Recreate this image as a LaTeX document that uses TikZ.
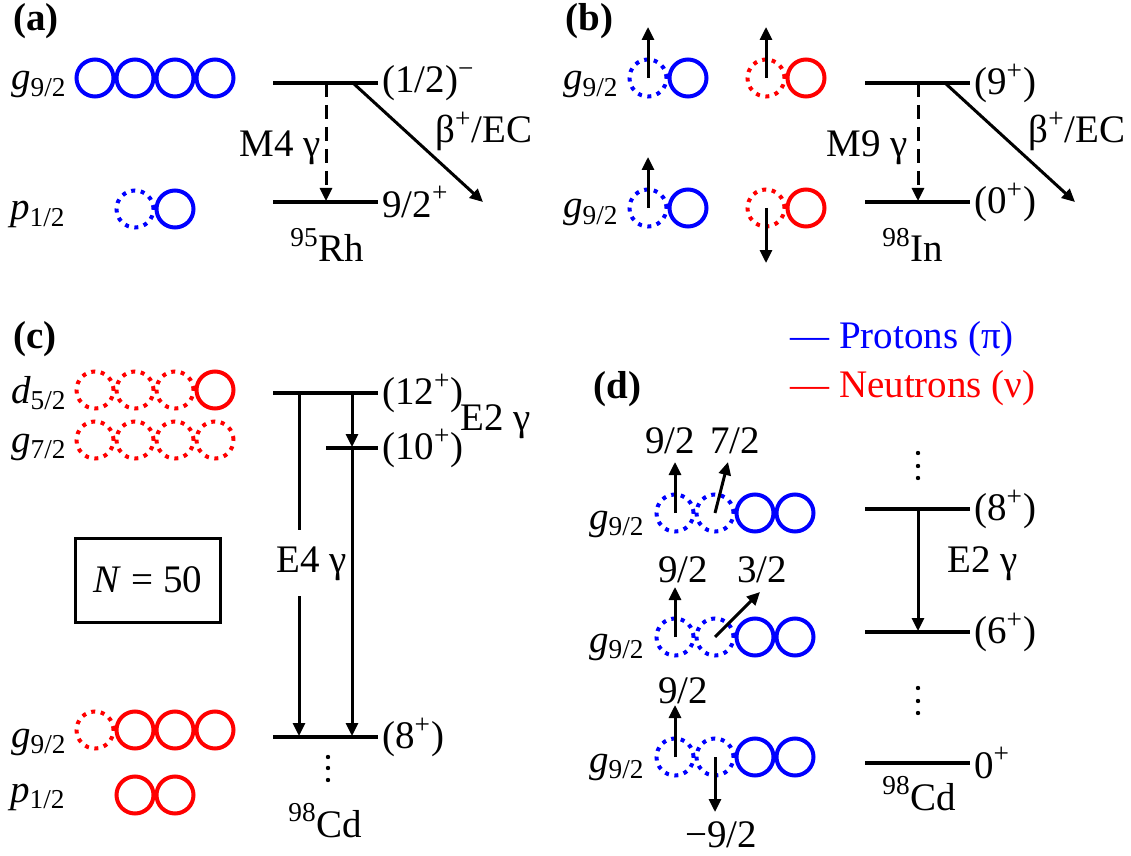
\documentclass[tikz,border=0pt]{standalone}
\usepackage{fontspec}
\setmainfont{Liberation Serif}
\usetikzlibrary{arrows.meta}

\begin{document}
\begin{tikzpicture}[x=0.5pt,y=-0.5pt,
  font=\fontsize{19.5}{23}\selectfont,
  every node/.style={inner sep=0pt},
  orb/.style={circle,draw,line width=2pt,minimum size=18.5pt},
  hole/.style={orb,dash pattern=on 2pt off 2.8pt},
  lvl/.style={line width=2.2pt},
  gam/.style={-{Triangle[length=6.5pt,width=6pt]},line width=1.5pt},
  mgam/.style={gam,dash pattern=on 7pt off 4pt},
  spin/.style={-{Triangle[length=6.5pt,width=6pt]},line width=1.5pt},
  tag/.style={anchor=base west,font=\fontsize{19.5}{23}\selectfont\bfseries},
  orbl/.style={anchor=base east},
  jlab/.style={anchor=west,xshift=1pt},
  txt/.style={anchor=base west}
]
\useasboundingbox (0,0) rectangle (1131,856);

% (a) 95Rh
\node[tag] (tagA) at (13,31) {(a)};
\node[orbl] (aGl) at (67,90) {\textit{g}\textsubscript{9/2}};
\node[orb,blue] (aG1) at (95,78) {}; \node[orb,blue] (aG2) at (135,78) {};
\node[orb,blue] (aG3) at (175,78) {}; \node[orb,blue] (aG4) at (215,78) {};
\node[orbl] (aPl) at (66,220) {\textit{p}\textsubscript{1/2}};
\node[hole,blue] (aP1) at (135,209) {}; \node[orb,blue] (aP2) at (175,209) {};

\draw[lvl] (273,83) -- (378,83) node[jlab] (aJhi) {(1/2)\textsuperscript{−}};
\draw[lvl] (273,202) -- (378,202) node[jlab] (aJlo) {9/2\textsuperscript{+}};
\coordinate (aMs) at (326,83); \coordinate (aMe) at (326,201);
\draw[mgam] (aMs) -- (aMe);
\node[anchor=base east] (aM4) at (321,157) {M4 γ};
\coordinate (aBs) at (353,83); \coordinate (aBe) at (483,202);
\draw[gam] (aBs) -- (aBe);
\node[txt] (aBeta) at (435,143) {β\textsuperscript{+}/EC};
\node[txt] (aNuc) at (290,262) {\textsuperscript{95}Rh};

% (b) 98In
\node[tag] (tagB) at (565,31) {(b)};
\node[orbl] (bGl1) at (619,90) {\textit{g}\textsubscript{9/2}};
\node[hole,blue] (bP1) at (648,78) {}; \node[orb,blue] (bP2) at (688,78) {};
\node[hole,red] (bN1) at (766,78) {}; \node[orb,red] (bN2) at (806,78) {};
\node[orbl] (bGl2) at (619,218) {\textit{g}\textsubscript{9/2}};
\node[hole,blue] (bP3) at (648,208) {}; \node[orb,blue] (bP4) at (688,208) {};
\node[hole,red] (bN3) at (766,208) {}; \node[orb,red] (bN4) at (806,208) {};
\coordinate (bS1) at (648,27); \coordinate (bS2) at (766,27);
\coordinate (bS3) at (648,157); \coordinate (bS4) at (766,263);
\draw[spin] (bP1.center) -- (bS1);
\draw[spin] (bN1.center) -- (bS2);
\draw[spin] (bP3.center) -- (bS3);
\draw[spin] (bN3.center) -- (bS4);

\draw[lvl] (865,83) -- (970,83) node[jlab] (bJhi) {(9\textsuperscript{+})};
\draw[lvl] (865,202) -- (970,202) node[jlab] (bJlo) {(0\textsuperscript{+})};
\coordinate (bMs) at (918,83); \coordinate (bMe) at (918,201);
\draw[mgam] (bMs) -- (bMe);
\node[anchor=base east] (bM9) at (908,157) {M9 γ};
\coordinate (bBs) at (945,83); \coordinate (bBe) at (1075,202);
\draw[gam] (bBs) -- (bBe);
\node[txt] (bBeta) at (1028,143) {β\textsuperscript{+}/EC};
\node[txt] (bNuc) at (882,262) {\textsuperscript{98}In};

% (c) 98Cd, neutron picture
\node[tag] (tagC) at (13,348) {(c)};
\node[orbl] (cDl) at (67,403) {\textit{d}\textsubscript{5/2}};
\node[hole,red] (cD1) at (95,390) {}; \node[hole,red] (cD2) at (135,390) {};
\node[hole,red] (cD3) at (175,390) {}; \node[orb,red] (cD4) at (215,390) {};
\node[orbl] (cGl) at (67,452) {\textit{g}\textsubscript{7/2}};
\node[hole,red] (cG1) at (95,440) {}; \node[hole,red] (cG2) at (135,440) {};
\node[hole,red] (cG3) at (175,440) {}; \node[hole,red] (cG4) at (215,440) {};
\node[draw,line width=1.5pt,minimum width=72.5pt,minimum height=42pt] (nbox) at (148,580) {\textit{N} = 50};
\node[orbl] (cG9l) at (67,747) {\textit{g}\textsubscript{9/2}};
\node[hole,red] (cH1) at (95,730) {}; \node[orb,red] (cH2) at (135,730) {};
\node[orb,red] (cH3) at (175,730) {}; \node[orb,red] (cH4) at (215,730) {};
\node[orbl] (cPl) at (66,802) {\textit{p}\textsubscript{1/2}};
\node[orb,red] (cP1) at (135,795) {}; \node[orb,red] (cP2) at (175,795) {};

\draw[lvl] (273,393) -- (378,393) node[jlab] (cJ12) {(12\textsuperscript{+})};
\draw[lvl] (326,448) -- (378,448) node[jlab] (cJ10) {(10\textsuperscript{+})};
\draw[lvl] (273,737) -- (378,737) node[jlab] (cJ8) {(8\textsuperscript{+})};
\coordinate (cEs) at (352,393); \coordinate (cEm) at (352,447);
\coordinate (cFs) at (299,393); \coordinate (cFe) at (299,736);
\coordinate (cEe) at (352,736);
\draw[gam] (cEs) -- (cEm);
\draw[gam] (cEm) -- (cEe);
\draw[gam] (cFs) -- (cFe);
\node[txt] (cE2) at (460,430) {E2 γ};
\node[txt,fill=white,inner ysep=8pt] (cE4) at (276,572) {E4 γ};
\fill (328,757) circle (1.1pt) (328,768) circle (1.1pt) (328,780) circle (1.1pt);
\node[txt] (cNuc) at (288,837) {\textsuperscript{98}Cd};

% legend
\node[txt,blue] (legP) at (790,348) {— Protons (π)};
\node[txt,red] (legN) at (790,397) {— Neutrons (ν)};

% (d) 98Cd, proton seniority
\node[tag] (tagD) at (593,398) {(d)};
\node[orbl] (dGl1) at (645,529) {\textit{g}\textsubscript{9/2}};
\node[hole,blue] (d11) at (675,513) {}; \node[hole,blue] (d12) at (715,513) {};
\node[orb,blue] (d13) at (755,513) {}; \node[orb,blue] (d14) at (795,513) {};
\node[orbl] (dGl2) at (645,652) {\textit{g}\textsubscript{9/2}};
\node[hole,blue] (d21) at (675,637) {}; \node[hole,blue] (d22) at (715,637) {};
\node[orb,blue] (d23) at (755,637) {}; \node[orb,blue] (d24) at (795,637) {};
\node[orbl] (dGl3) at (645,772) {\textit{g}\textsubscript{9/2}};
\node[hole,blue] (d31) at (675,757) {}; \node[hole,blue] (d32) at (715,757) {};
\node[orb,blue] (d33) at (755,757) {}; \node[orb,blue] (d34) at (795,757) {};

\coordinate (dS11) at (675,462); \coordinate (dS12) at (728,462);
\coordinate (dS21) at (675,587); \coordinate (dS22) at (760,592);
\coordinate (dS31) at (675,705); \coordinate (dS32) at (715,812);
\draw[spin] (d11.center) -- (dS11);
\draw[spin] (d12.center) -- (dS12);
\draw[spin] (d21.center) -- (dS21);
\draw[spin] (d22.center) -- (dS22);
\draw[spin] (d31.center) -- (dS31);
\draw[spin] (d32.center) -- (dS32);
\node[txt] (dM11) at (645,453) {9/2};
\node[txt] (dM12) at (710,453) {7/2};
\node[txt] (dM21) at (658,582) {9/2};
\node[txt] (dM22) at (737,582) {3/2};
\node[txt] (dM31) at (658,703) {9/2};
\node[txt] (dM32) at (685,847) {−9/2};

\fill (918,453) circle (1.1pt) (918,466) circle (1.1pt) (918,478) circle (1.1pt);
\draw[lvl] (865,509) -- (970,509) node[jlab] (dJ8) {(8\textsuperscript{+})};
\draw[lvl] (865,632) -- (970,632) node[jlab] (dJ6) {(6\textsuperscript{+})};
\fill (918,688) circle (1.1pt) (918,701) circle (1.1pt) (918,713) circle (1.1pt);
\draw[lvl] (865,763) -- (970,763) node[jlab] (dJ0) {0\textsuperscript{+}};
\coordinate (dEs) at (918,509); \coordinate (dEe) at (918,631);
\draw[gam] (dEs) -- (dEe);
\node[txt] (dE2) at (947,572) {E2 γ};
\node[txt] (dNuc) at (882,810) {\textsuperscript{98}Cd};
\end{tikzpicture}
\end{document}
